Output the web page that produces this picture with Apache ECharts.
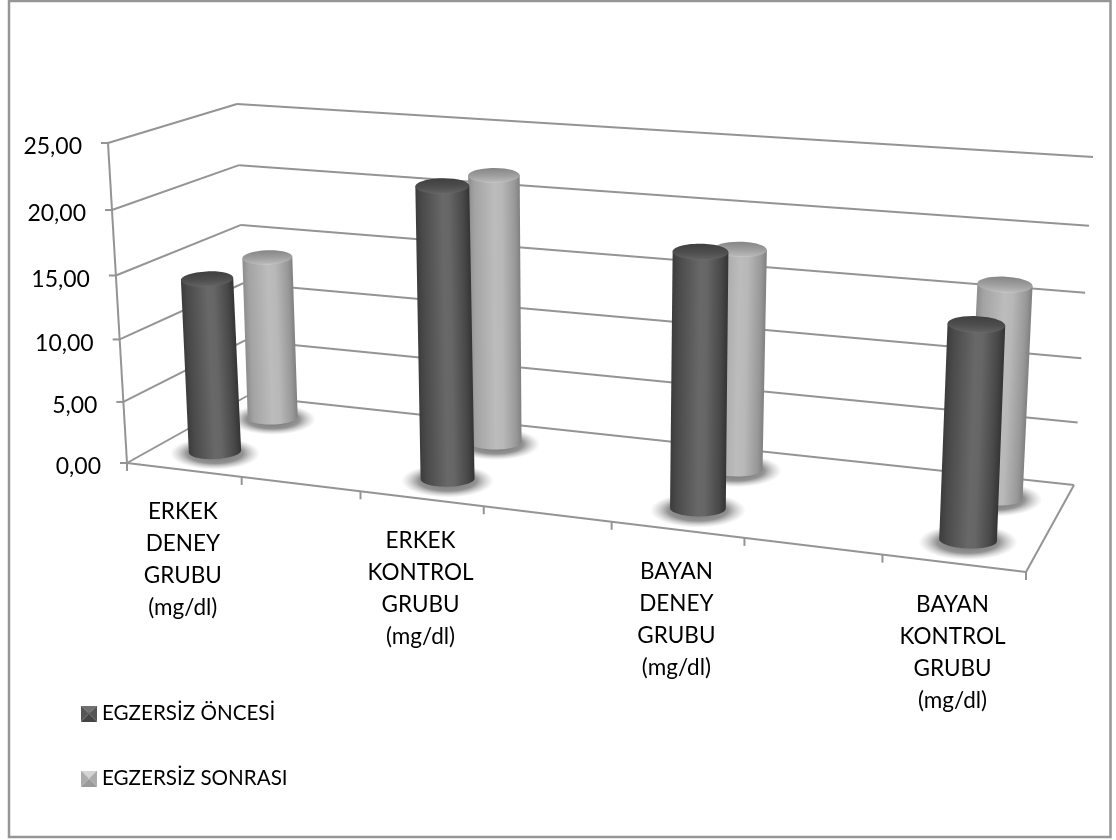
<!DOCTYPE html>
<html>
<head>
<meta charset="utf-8">
<style>html,body{margin:0;padding:0;background:#fff}#chart{width:1116px;height:840px}</style>
<script src="https://cdn.jsdelivr.net/npm/echarts@6/dist/echarts.min.js"></script>
</head>
<body>
<div id="chart"></div>
<script>
// Seven category slots: the four groups sit on every second slot.
const categories = [
  'ERKEK\nDENEY\nGRUBU\n(mg/dl)', '',
  'ERKEK\nKONTROL\nGRUBU\n(mg/dl)', '',
  'BAYAN\nDENEY\nGRUBU\n(mg/dl)', '',
  'BAYAN\nKONTROL\nGRUBU\n(mg/dl)'
];
const seriesNames = ['EGZERSİZ ÖNCESİ', 'EGZERSİZ SONRASI'];
const onceki = [14.05, null, 22.65, null, 19.35, null, 15.85];
const sonraki = [13.65, null, 21.65, null, 17.4, null, 16.35];
const valueTicks = [0, 5, 10, 15, 20, 25];

// Plot rectangle of the hidden cartesian axes; its edges are the front-left vertical and the front floor edge.
const GRID = { left: 127, top: 143, width: 899, height: 320 };
const V_MAX = 25;
const FONT = 'Lato';
const LINE = '#949494';

// Eight corners of the 3D box, as [x, y] on screen.
const BOX = {
  fl0: [127, 463], fl1: [108, 143],
  fr0: [1026, 572], fr1: [1041, 213],
  bl0: [247, 396], bl1: [237, 104],
  br0: [1074, 485], br1: [1093, 157]
};
const PERSPECTIVE_X = 1.14;
const PERSPECTIVE_Y = 1.06;

function mix(a, b, k) { return [a[0] + (b[0] - a[0]) * k, a[1] + (b[1] - a[1]) * k]; }
function foreshorten(k, p) { return k / (p - (p - 1) * k); }

// t: 0..1 along the categories, depth: 0 front..1 back, h: axis value.
function project(t, depth, h) {
  const tw = foreshorten(t, PERSPECTIVE_X);
  const low = mix(mix(BOX.fl0, BOX.fr0, tw), mix(BOX.bl0, BOX.br0, tw), depth);
  const high = mix(mix(BOX.fl1, BOX.fr1, tw), mix(BOX.bl1, BOX.br1, tw), depth);
  return mix(low, high, foreshorten(h / V_MAX, PERSPECTIVE_Y));
}

// Converts the axis pixel position returned by api.coord into box parameters.
function fromAxes(pt) {
  return {
    t: (pt[0] - GRID.left) / GRID.width,
    h: (GRID.top + GRID.height - pt[1]) / GRID.height * V_MAX
  };
}

function lineEl(a, b) {
  return {
    type: 'line',
    shape: { x1: a[0], y1: a[1], x2: b[0], y2: b[1] },
    style: { stroke: LINE, lineWidth: 2, fill: null }
  };
}

function hStops(stops) {
  return { type: 'linear', x: 0, y: 0, x2: 1, y2: 0, colorStops: stops.map(s => ({ offset: s[0], color: s[1] })) };
}
function vStops(stops) {
  return { type: 'linear', x: 0, y: 0, x2: 0, y2: 1, colorStops: stops.map(s => ({ offset: s[0], color: s[1] })) };
}

const PALETTE = {
  dark: {
    body: hStops([[0, '#3c3c3c'], [0.12, '#4a4a4a'], [0.5, '#686868'], [0.62, '#666666'], [0.88, '#484848'], [1, '#343434']]),
    cap: vStops([[0, '#3f3f3f'], [0.55, '#4e4e4e'], [0.9, '#5f5f5f'], [1, '#6c6c6c']])
  },
  light: {
    body: hStops([[0, '#8d8d8d'], [0.12, '#a3a3a3'], [0.5, '#bcbcbc'], [0.65, '#b8b8b8'], [0.9, '#989898'], [1, '#808080']]),
    cap: vStops([[0, '#858585'], [0.55, '#a0a0a0'], [0.9, '#b6b6b6'], [1, '#c8c8c8']])
  }
};

function cylinderRenderer(depth, colors) {
  return function (params, api) {
    const value = api.value(1);
    if (isNaN(value)) return;
    const topAxis = fromAxes(api.coord([api.value(0), value]));
    const base = project(topAxis.t, depth, 0);
    const top = project(topAxis.t, depth, topAxis.h);
    const full = project(topAxis.t, depth, V_MAX);
    const rx = Math.hypot(full[0] - base[0], full[1] - base[1]) * 0.083;
    const ry = rx * 0.29;
    const dx = top[0] - base[0], dy = top[1] - base[1];
    const len = Math.hypot(dx, dy);
    const pts = [[-rx, -len]];
    for (let i = 0; i <= 32; i++) {
      const a = Math.PI - Math.PI * i / 32;
      pts.push([rx * Math.cos(a), ry * Math.sin(a)]);
    }
    pts.push([rx, -len]);
    return {
      type: 'group',
      children: [
        {
          type: 'circle',
          x: base[0], y: base[1] + 2, scaleY: 0.36,
          shape: { cx: 0, cy: 0, r: rx * 1.72 },
          style: {
            fill: {
              type: 'radial', x: 0.5, y: 0.5, r: 0.5,
              colorStops: [
                { offset: 0, color: 'rgba(90,90,90,0.9)' },
                { offset: 0.62, color: 'rgba(110,110,110,0.75)' },
                { offset: 1, color: 'rgba(170,170,170,0)' }
              ]
            }
          }
        },
        {
          type: 'group',
          x: base[0], y: base[1],
          rotation: -Math.atan2(dx, -dy),
          children: [
            { type: 'polygon', shape: { points: pts }, style: { fill: colors.body } },
            { type: 'ellipse', shape: { cx: 0, cy: -len, rx: rx, ry: ry }, style: { fill: colors.cap } }
          ]
        }
      ]
    };
  };
}

// Walls: one polyline and one tick and label per value tick.
function renderValueTick(params, api) {
  const pt = fromAxes(api.coord([0, api.value(1)]));
  const front = project(0, 0, pt.h);
  const back = project(0, 1, pt.h);
  const right = project(1, 1, pt.h);
  return {
    type: 'group',
    children: [
      lineEl(front, back),
      lineEl(back, right),
      lineEl([front[0] - 7, front[1]], front),
      {
        type: 'text',
        style: {
          text: api.value(1).toFixed(2).replace('.', ','),
          x: front[0] - 26, y: front[1] + 4,
          align: 'right', verticalAlign: 'middle',
          fontFamily: FONT, fontSize: 23, fill: '#000'
        }
      }
    ]
  };
}

// Floor edges, category ticks and category labels.
function renderCategoryTick(params, api) {
  const i = api.value(0);
  const band = GRID.width / categories.length;
  const left = fromAxes([api.coord([i, 0])[0] - band / 2, 0]).t;
  const edge = project(left, 0, 0);
  const children = [lineEl(edge, [edge[0], edge[1] + 8])];
  if (i === categories.length - 1) {
    const end = project(1, 0, 0);
    children.push(lineEl(end, [end[0], end[1] + 8]));
    children.push(lineEl(project(0, 0, 0), end));
    children.push(lineEl(end, project(1, 1, 0)));
    children.push(lineEl(project(0, 0, 0), project(0, 0, V_MAX)));
  }
  if (categories[i]) {
    const mid = project(fromAxes(api.coord([i, 0])).t, 0, 0);
    children.push({
      type: 'text',
      style: {
        text: categories[i],
        x: mid[0] - 1, y: mid[1] + 26,
        align: 'center', verticalAlign: 'top',
        fontFamily: FONT, fontSize: 22.5, lineHeight: 32, fill: '#000'
      }
    });
  }
  return { type: 'group', children: children };
}

// Small bevelled square for the legend keys.
function bevelIcon(top, side, bottom, centre) {
  const c = document.createElement('canvas');
  c.width = c.height = 16;
  const g = c.getContext('2d');
  const tri = (col, a, b) => {
    g.fillStyle = col;
    g.beginPath(); g.moveTo(a[0], a[1]); g.lineTo(b[0], b[1]); g.lineTo(8, 8); g.closePath(); g.fill();
  };
  tri(top, [0, 0], [16, 0]);
  tri(side, [16, 0], [16, 16]);
  tri(bottom, [16, 16], [0, 16]);
  tri(side, [0, 16], [0, 0]);
  g.fillStyle = centre;
  g.fillRect(7, 7, 2, 2);
  return 'image://' + c.toDataURL();
}

const chart = echarts.init(document.getElementById('chart'), null, { renderer: 'canvas' });
chart.setOption({
  backgroundColor: '#ffffff',
  animation: false,
  graphic: [{
    type: 'rect',
    shape: { x: 9, y: 1, width: 1101.5, height: 836 },
    style: { fill: null, stroke: '#969696', lineWidth: 2.5 },
    silent: true
  }],
  grid: { left: GRID.left, top: GRID.top, width: GRID.width, height: GRID.height },
  xAxis: { type: 'category', data: categories, show: false },
  yAxis: { type: 'value', min: 0, max: V_MAX, interval: 5, show: false },
  legend: {
    orient: 'vertical', left: 76, top: 698,
    itemWidth: 16, itemHeight: 16, itemGap: 44, selectedMode: false,
    textStyle: { fontFamily: FONT, fontSize: 20.6, color: '#000' },
    data: [
      { name: seriesNames[0], icon: bevelIcon('#707070', '#555555', '#444444', '#666666') },
      { name: seriesNames[1], icon: bevelIcon('#d4d4d4', '#ababab', '#9a9a9a', '#c4c4c4') }
    ]
  },
  series: [
    {
      name: seriesNames[0], type: 'custom', z: 5, clip: false, silent: true,
      itemStyle: { color: '#555555' },
      renderItem: cylinderRenderer(0.27, PALETTE.dark),
      encode: { x: 0, y: 1 },
      data: onceki.map((v, i) => [i, v])
    },
    {
      name: seriesNames[1], type: 'custom', z: 4, clip: false, silent: true,
      itemStyle: { color: '#aaaaaa' },
      renderItem: cylinderRenderer(0.77, PALETTE.light),
      encode: { x: 0, y: 1 },
      data: sonraki.map((v, i) => [i, v])
    },
    {
      type: 'custom', z: 2, clip: false, silent: true,
      renderItem: renderValueTick,
      encode: { x: 0, y: 1 },
      data: valueTicks.map(v => [0, v])
    },
    {
      type: 'custom', z: 2, clip: false, silent: true,
      renderItem: renderCategoryTick,
      encode: { x: 0, y: 1 },
      data: categories.map((c, i) => [i, 0])
    }
  ]
});
</script>
</body>
</html>
